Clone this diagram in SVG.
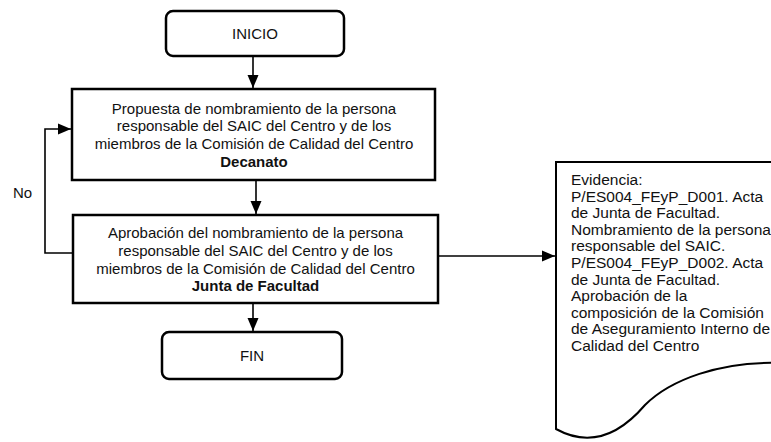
<svg xmlns="http://www.w3.org/2000/svg" width="771" height="442" viewBox="0 0 771 442">
<style>
.box{fill:#fff;stroke:#000;stroke-width:2.5}
.doc{fill:#fff;stroke:#000;stroke-width:2}
.con{fill:none;stroke:#000;stroke-width:1.6}
text{font-family:"Liberation Sans",Arial,sans-serif;font-size:15px;fill:#111}
.c{text-anchor:middle}
.b{font-weight:bold}
.d{font-size:15.5px}
</style>
<defs>
<marker id="ah" markerUnits="userSpaceOnUse" markerWidth="13" markerHeight="13" viewBox="0 0 13 13" refX="13" refY="6.5" orient="auto">
<path d="M0,1 L13,6.5 L0,12 Z" fill="#000"/>
</marker>
</defs>
<rect width="771" height="442" fill="#fff"/>
<g id="connectors">
<line class="con" x1="253" y1="57" x2="253" y2="88" marker-end="url(#ah)"/>
<line class="con" x1="256" y1="181" x2="256" y2="214" marker-end="url(#ah)"/>
<line class="con" x1="253" y1="304" x2="253" y2="331" marker-end="url(#ah)"/>
<polyline class="con" points="73,253 45,253 45,129 71,129" marker-end="url(#ah)"/>
<line class="con" x1="439" y1="256" x2="555" y2="256" marker-end="url(#ah)"/>
<text x="13" y="198">No</text>
</g>
<g id="inicio">
<rect class="box" x="166" y="11" width="178" height="45" rx="7"/>
<text class="c" x="255" y="38.5">INICIO</text>
</g>
<g id="propuesta">
<rect class="box" x="72" y="89" width="363" height="91"/>
<text class="c" x="254" y="113.5">Propuesta de nombramiento de la persona</text>
<text class="c" x="254" y="131.3">responsable del SAIC del Centro y de los</text>
<text class="c" x="254" y="149">miembros de la Comisión de Calidad del Centro</text>
<text class="c b" x="254" y="167">Decanato</text>
</g>
<g id="aprobacion">
<rect class="box" x="73" y="215" width="365" height="88"/>
<text class="c" x="255.5" y="238">Aprobación del nombramiento de la persona</text>
<text class="c" x="255.5" y="255.5">responsable del SAIC del Centro y de los</text>
<text class="c" x="255.5" y="273.5">miembros de la Comisión de Calidad del Centro</text>
<text class="c b" x="255.5" y="291">Junta de Facultad</text>
</g>
<g id="fin">
<rect class="box" x="162" y="332" width="180" height="47" rx="7"/>
<text class="c" x="252" y="361">FIN</text>
</g>
<g id="evidencia">
<path class="doc" d="M556,162 L780,162 L780,363 C720,361 670,380 645,405 C615,440 585,445 556,429 Z"/>
<text class="d" x="571" y="185">Evidencia:</text>
<text class="d" x="571" y="201.6">P/ES004_FEyP_D001. Acta</text>
<text class="d" x="571" y="218.2">de Junta de Facultad.</text>
<text class="d" x="571" y="234.8">Nombramiento de la persona</text>
<text class="d" x="571" y="251.4">responsable del SAIC.</text>
<text class="d" x="571" y="268">P/ES004_FEyP_D002. Acta</text>
<text class="d" x="571" y="284.6">de Junta de Facultad.</text>
<text class="d" x="571" y="301.2">Aprobación de la</text>
<text class="d" x="571" y="317.8">composición de la Comisión</text>
<text class="d" x="571" y="334.4">de Aseguramiento Interno de</text>
<text class="d" x="571" y="351">Calidad del Centro</text>
</g>
</svg>
